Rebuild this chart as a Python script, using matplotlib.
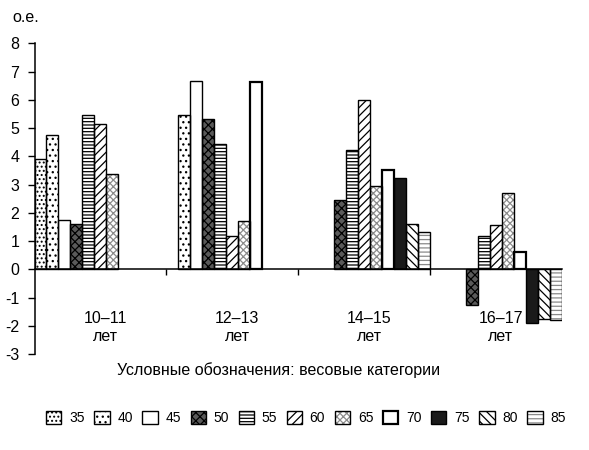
import numpy as np
import matplotlib
matplotlib.use('Agg')
import matplotlib.pyplot as plt
from matplotlib.patches import Patch

plt.rcParams['font.family'] = ['Liberation Sans', 'DejaVu Sans']
plt.rcParams['hatch.linewidth'] = 0.9
plt.rcParams['axes.unicode_minus'] = False

nan = np.nan

# age groups (x categories)
ages = ['10–11\nлет', '12–13\nлет', '14–15\nлет', '16–17\nлет']

# weight categories (series)
weights = ['35', '40', '45', '50', '55', '60', '65', '70', '75', '80', '85']

# values, о.е., one list per weight category, one value per age group
w35 = [3.92, nan, nan, nan]
w40 = [4.75, 5.48, nan, nan]
w45 = [1.74, 6.65, nan, nan]
w50 = [1.6, 5.31, 2.47, -1.24]
w55 = [5.48, 4.45, 4.24, 1.18]
w60 = [5.16, 1.2, 6.0, 1.57]
w65 = [3.39, 1.73, 2.94, 2.71]
w70 = [nan, 6.64, 3.53, 0.61]
w75 = [nan, nan, 3.25, -1.88]
w80 = [nan, nan, 1.6, -1.74]
w85 = [nan, nan, 1.31, -1.77]

series = [w35, w40, w45, w50, w55, w60, w65, w70, w75, w80, w85]

# face colour, hatch, hatch colour, outline width
styles = [
    ('white', '....', 'black', 1.0),
    ('white', '...', 'black', 1.0),
    ('white', '', 'black', 1.0),
    ('#5a5a5a', 'xxxx', 'black', 1.0),
    ('white', '-----', 'black', 1.0),
    ('white', '////', 'black', 1.0),
    ('white', 'xxxxx', '#8c8c8c', 1.0),
    ('white', '', 'black', 1.6),
    ('#1a1a1a', '', '#1a1a1a', 1.0),
    ('white', '\\\\\\\\', 'black', 1.0),
    ('white', '----', '#8a8a8a', 1.0),
]

n = len(weights)

fig = plt.figure(figsize=(5.89, 4.5), dpi=100)
ax = fig.add_axes([34.5 / 589, 1 - 354.3 / 450, (562 - 34.5) / 589, (354.3 - 43.3) / 450])

handles = []
for i, (vals, (face, hatch, hcol, lw)) in enumerate(zip(series, styles)):
    xs = [g * n + i for g, v in enumerate(vals) if not np.isnan(v)]
    hs = [v for v in vals if not np.isnan(v)]
    ax.bar(xs, hs, width=1, align='edge', color=face, edgecolor=hcol,
           hatch=hatch, linewidth=0, zorder=2)
    ax.bar(xs, hs, width=1, align='edge', fill=False, edgecolor='black',
           linewidth=lw, zorder=3)
    handles.append((Patch(facecolor=face, edgecolor=hcol, hatch=hatch, linewidth=0),
                    Patch(fill=False, edgecolor='black', linewidth=lw)))

ax.set_xlim(0, n * len(ages))
ax.set_ylim(-3, 8)
ax.set_yticks(np.arange(-3, 9, 1))
ax.tick_params(axis='y', labelsize=11.5, length=5, width=1, pad=6)

ax.spines['top'].set_visible(False)
ax.spines['right'].set_visible(False)
ax.spines['bottom'].set_position(('data', 0))
ax.spines['bottom'].set_zorder(4)
ax.spines['left'].set_linewidth(1.1)
ax.spines['bottom'].set_linewidth(1.1)
ax.set_xticks([n * g for g in range(1, len(ages))])
ax.set_xticklabels([])
ax.tick_params(axis='x', length=4, width=1, direction='out')

for g, lab in enumerate(ages):
    ax.text(g * n + 5.9, -2.05, lab, ha='center', va='center', fontsize=11.5,
            linespacing=1.2)

fig.text(12 / 589, 1 - 17 / 450, 'о.е.', fontsize=11.5, va='center', ha='left')
fig.text(279 / 589, 1 - 370 / 450, 'Условные обозначения: весовые категории',
         fontsize=11.5, ha='center', va='center')

fig.legend(handles, weights, ncol=n, loc='center',
           bbox_to_anchor=(306 / 589, 1 - 418 / 450), frameon=False,
           fontsize=10, handlelength=1.1, handleheight=1.1,
           handletextpad=0.55, columnspacing=0.7, borderpad=0)

fig.savefig('out.png', dpi=100)
